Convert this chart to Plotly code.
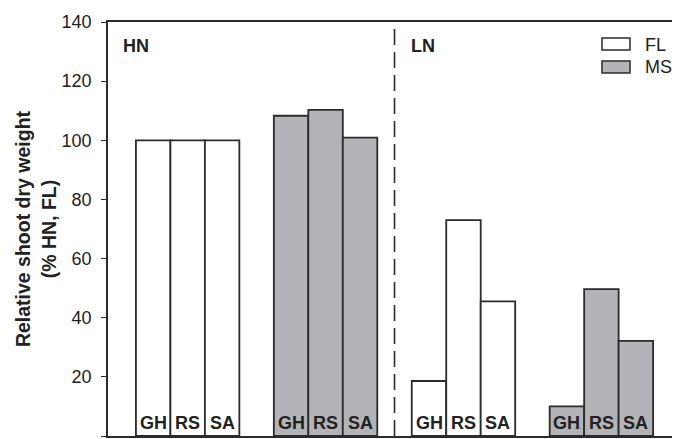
import plotly.graph_objects as go

cultivars = ["GH", "RS", "SA"]
hn_fl = [100, 100, 100]
hn_ms = [108.3, 110.3, 100.9]
ln_fl = [18.6, 73, 45.5]
ln_ms = [10, 49.7, 32.2]
y_ticks = [0, 20, 40, 60, 80, 100, 120, 140]

fl_color = "#ffffff"
ms_color = "#b3b4b8"
edge = "#2b2b2b"
txt = "#222222"
fam = "Liberation Sans, Arial, sans-serif"

x_hn_fl = [0, 1, 2]
x_hn_ms = [4, 5, 6]
x_ln_fl = [8, 9, 10]
x_ln_ms = [12, 13, 14]

fig = go.Figure()

def add_bars(xs, ys, color, name):
    fig.add_trace(go.Bar(
        x=xs, y=ys, width=1.0, name=name, showlegend=False,
        marker=dict(color=color, line=dict(color=edge, width=1.8)),
    ))

add_bars(x_hn_fl, hn_fl, fl_color, "FL")
add_bars(x_hn_ms, hn_ms, ms_color, "MS")
add_bars(x_ln_fl, ln_fl, fl_color, "FL")
add_bars(x_ln_ms, ln_ms, ms_color, "MS")

annotations = []
for xs in (x_hn_fl, x_hn_ms, x_ln_fl, x_ln_ms):
    for x, lab in zip(xs, cultivars):
        annotations.append(dict(
            x=x, y=4.5, xref="x", yref="y", text="<b>%s</b>" % lab,
            showarrow=False, font=dict(size=18, color=txt, family=fam),
        ))

annotations.append(dict(x=-0.93, y=131.9, xref="x", yref="y", text="<b>HN</b>", showarrow=False,
                        xanchor="left", font=dict(size=18, color=txt, family=fam)))
annotations.append(dict(x=7.43, y=131.9, xref="x", yref="y", text="<b>LN</b>", showarrow=False,
                        xanchor="left", font=dict(size=18, color=txt, family=fam)))

# legend (drawn manually to match the wide swatches)
annotations.append(dict(x=0.9353, y=0.9444, xref="paper", yref="paper", text="FL", showarrow=False,
                        xanchor="left", yanchor="middle", font=dict(size=18, color=txt, family=fam)))
annotations.append(dict(x=0.9353, y=0.8913, xref="paper", yref="paper", text="MS", showarrow=False,
                        xanchor="left", yanchor="middle", font=dict(size=18, color=txt, family=fam)))
fig.add_shape(type="rect", xref="paper", yref="paper", x0=0.8636, x1=0.9126, y0=0.9324, y1=0.9614,
              line=dict(color=edge, width=1.5), fillcolor=fl_color)
fig.add_shape(type="rect", xref="paper", yref="paper", x0=0.8636, x1=0.9126, y0=0.8768, y1=0.9058,
              line=dict(color=edge, width=1.5), fillcolor=ms_color)

fig.add_shape(type="line", x0=7, x1=7, y0=0, y1=140, xref="x", yref="y",
              line=dict(color=edge, width=1.6, dash="16px,7px"))

fig.update_layout(
    width=672, height=431,
    margin=dict(l=100, r=0, t=14, b=3),
    plot_bgcolor="white", paper_bgcolor="white",
    barmode="overlay",
    annotations=annotations,
    showlegend=False,
    font=dict(family=fam, color=txt),
    xaxis=dict(range=[-1.31, 15.28], showgrid=False, zeroline=False, showticklabels=False,
               ticks="", showline=True, mirror=True, linecolor=edge, linewidth=1.5),
    yaxis=dict(range=[0, 140], tickvals=y_ticks, showgrid=False, zeroline=False,
               ticks="outside", ticklen=5, tickcolor=edge, tickwidth=1.2, showline=True, linecolor=edge,
               linewidth=1.5, tickfont=dict(size=18, color=txt, family=fam),
               ticklabelstandoff=6,
               title=dict(text="<b>Relative shoot dry weight<br>(% HN, FL)</b>",
                          font=dict(size=19.5, color=txt, family=fam), standoff=0)),
)

fig.write_html("out.html")
